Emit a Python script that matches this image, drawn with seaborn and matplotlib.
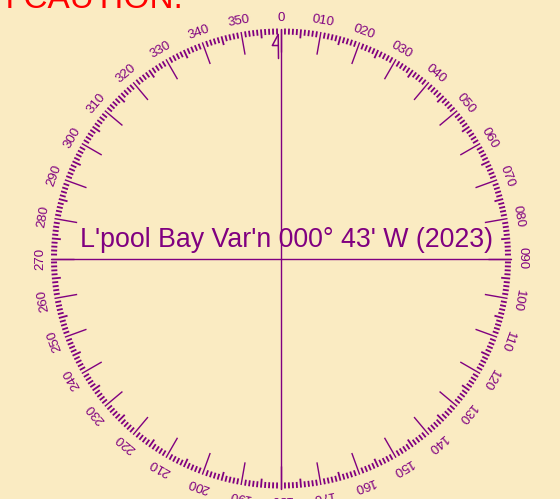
import numpy as np
import pandas as pd
import matplotlib
matplotlib.use("Agg")
import matplotlib.pyplot as plt
from matplotlib.collections import LineCollection
import seaborn as sns

# compass rose data
var_deg = 0          # variation degrees
var_min = 43         # variation minutes
var_dir = "W"
var_year = 2023
place = "L'pool Bay"
warning = "USE WITH CAUTION."

graduations = np.arange(0, 360, 1)           # 1 degree marks
label_bearings = list(range(0, 360, 10))     # labelled every 10 degrees
label_texts = ["0"] + ["%03d" % b for b in label_bearings[1:]]

bg = "#FAEBC2"
purple = "#800080"

sns.set_theme(style="white", rc={"axes.facecolor": bg, "figure.facecolor": bg})
plt.rcParams["font.family"] = ["Liberation Sans", "DejaVu Sans"]

fig = plt.figure(figsize=(5.6, 4.99), dpi=100)
ax = fig.add_axes([0, 0, 1, 1])

cx, cy, R = 281, 258.5, 230


def pt(bearing, r):
    b = np.radians(bearing)
    return cx + r * np.sin(b), cy - r * np.cos(b)


# graduation ticks
segs = []
widths = []
for b in graduations:
    if b % 10 == 0:
        r_in = 207
        widths.append(1.0)
    elif b % 5 == 0:
        r_in = R - 9
        widths.append(1.3)
    else:
        r_in = R - 6
        widths.append(1.3)
    segs.append([pt(b, R), pt(b, r_in)])
ax.add_collection(LineCollection(segs, colors=purple, linewidths=widths))

# labels
for b, t in zip(label_bearings, label_texts):
    x, y = pt(b, 241)
    ax.text(x, y, t, rotation=-b, rotation_mode="anchor", ha="center",
            va="center", fontsize=9.5, color=purple)

# cross lines through the centre
ns = pd.DataFrame({"x": [pt(0, R)[0], pt(180, R)[0]], "y": [pt(0, R)[1], pt(180, R)[1]]})
ew = pd.DataFrame({"x": [pt(270, R)[0], pt(90, R)[0]], "y": [pt(270, R)[1], pt(90, R)[1]]})
sns.lineplot(data=ns, x="x", y="y", ax=ax, color=purple, lw=1.0, sort=False,
             estimator=None, errorbar=None)
sns.lineplot(data=ew, x="x", y="y", ax=ax, color=purple, lw=1.0, sort=False,
             estimator=None, errorbar=None)

# magnetic north half-arrow
mag = -(var_deg + var_min / 60.0) if var_dir == "W" else (var_deg + var_min / 60.0)
tip = pt(mag, 224)
tail = pt(mag, 200)
ax.plot([tip[0], tail[0]], [tip[1], tail[1]], color=purple, lw=1.1)
base = pt(mag, 213)
ax.plot([tip[0], base[0] - 6, base[0]], [tip[1], base[1], base[1]], color=purple, lw=1.1)

# title
title = "%s Var'n %03d\u00b0 %02d' %s (%d)" % (place, var_deg, var_min, var_dir, var_year)
ax.text(287, 247, title, ha="center", va="baseline", fontsize=19.3, color=purple)

ax.text(183, 8, warning, ha="right", va="baseline", fontsize=24, color="red")

ax.set_xlim(0, 560)
ax.set_ylim(499, 0)
ax.set_axis_off()

fig.savefig("out.png", dpi=100, facecolor=bg)
